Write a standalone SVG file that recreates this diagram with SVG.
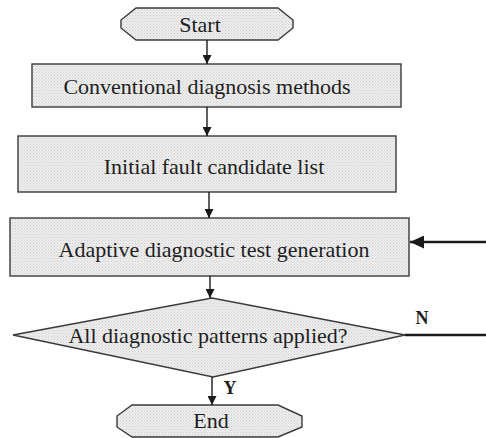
<svg xmlns="http://www.w3.org/2000/svg" width="486" height="438" viewBox="0 0 486 438">
  <defs>
    <!-- fine dotted screen used as the shape fill -->
    <pattern id="screen" width="3" height="3" patternUnits="userSpaceOnUse">
      <rect width="3" height="3" fill="#ececec"/>
      <rect x="0" y="0" width="1" height="1" fill="#cfcfcf"/>
      <rect x="1.5" y="1.5" width="1" height="1" fill="#d8d8d8"/>
    </pattern>
    <marker id="head" viewBox="0 0 10 10" refX="10" refY="5" markerWidth="9" markerHeight="9" markerUnits="userSpaceOnUse" orient="auto">
      <path d="M0,0 L10,5 L0,10 Z" fill="#1a1a1a"/>
    </marker>
    <marker id="headBig" viewBox="0 0 10 10" refX="10" refY="5" markerWidth="14" markerHeight="13" markerUnits="userSpaceOnUse" orient="auto" preserveAspectRatio="none">
      <path d="M0,0 L10,5 L0,10 Z" fill="#1a1a1a"/>
    </marker>
  </defs>
  <style>
    .shape { fill: url(#screen); stroke: #3a3a3a; stroke-width: 1.4; }
    .label { font-family: "Liberation Serif", "Times New Roman", serif; font-size: 22px; fill: #1e1e1e; text-anchor: middle; }
    .tag { font-family: "Liberation Serif", "Times New Roman", serif; font-size: 18px; font-weight: bold; fill: #1e1e1e; text-anchor: middle; }
    .flow { stroke: #1a1a1a; stroke-width: 1.4; fill: none; }
    .thick { stroke: #1a1a1a; stroke-width: 2.6; fill: none; }
  </style>

  <rect width="486" height="438" fill="#ffffff"/>

  <g id="start">
    <path class="shape" d="M136,8 L278,8 L293,20 L293,28 L278,40 L136,40 L121,28 L121,20 Z"/>
    <text class="label" x="200" y="32">Start</text>
  </g>

  <g id="conventional">
    <rect class="shape" x="32" y="64" width="369" height="43"/>
    <text class="label" x="207" y="94">Conventional diagnosis methods</text>
  </g>

  <g id="candidates">
    <rect class="shape" x="18" y="136" width="378" height="56"/>
    <text class="label" x="214" y="174">Initial fault candidate list</text>
  </g>

  <g id="generation">
    <rect class="shape" x="10" y="218" width="399" height="58"/>
    <text class="label" x="214" y="257">Adaptive diagnostic test generation</text>
  </g>

  <g id="decision">
    <path class="shape" d="M13,335 L212,298 L405,335 L213,377 Z"/>
    <text class="label" x="208" y="343">All diagnostic patterns applied?</text>
  </g>

  <g id="end">
    <path class="shape" d="M132,405 L278,405 L302,416 L302,427 L278,437 L132,437 L117,427 L117,416 Z"/>
    <text class="label" x="211" y="428">End</text>
  </g>

  <g id="connectors">
    <line class="flow" x1="207" y1="40" x2="207" y2="64" marker-end="url(#head)"/>
    <line class="flow" x1="207" y1="107" x2="207" y2="136" marker-end="url(#head)"/>
    <line class="flow" x1="209" y1="192" x2="209" y2="218" marker-end="url(#head)"/>
    <line class="flow" x1="210" y1="276" x2="210" y2="298" marker-end="url(#head)"/>
    <line class="flow" x1="212" y1="377" x2="212" y2="405" marker-end="url(#head)"/>
    <text class="tag" x="230" y="394">Y</text>
    <line class="thick" x1="405" y1="335" x2="486" y2="335"/>
    <text class="tag" x="422" y="324">N</text>
    <line class="thick" x1="486" y1="242" x2="410" y2="242" marker-end="url(#headBig)"/>
  </g>
</svg>
